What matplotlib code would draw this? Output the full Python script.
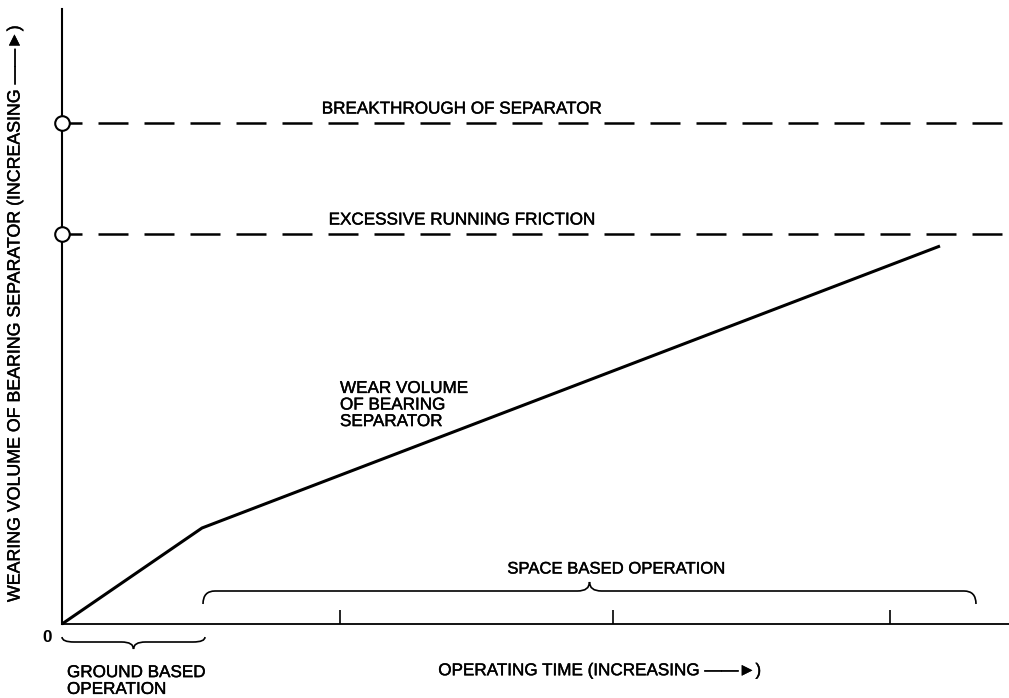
import matplotlib
matplotlib.use("Agg")
import matplotlib.pyplot as plt
import matplotlib.patheffects as pe
from matplotlib.path import Path
from matplotlib.patches import PathPatch

plt.rcParams['font.family'] = ['Liberation Sans', 'DejaVu Sans']

# operating time (arbitrary units) vs wear volume (arbitrary units)
wear_time = [0.0, 1.40, 8.78]
wear_volume = [0.0, 0.96, 3.78]

# failure limits
limit_names = ["BREAKTHROUGH OF SEPARATOR", "EXCESSIVE RUNNING FRICTION"]
limit_levels = [5.01, 3.90]

ground_span = [0.0, 1.43]
space_span = [1.41, 9.14]
time_ticks = [2.78, 5.51, 8.28]

x_max = 9.47
y_max = 6.15

# scanned print looks a little heavier than the plain font
ink = [pe.withStroke(linewidth=0.3, foreground='black')]


def brace(ax, x0, x1, y, tip, end, r):
    """Curly brace along y: tip is the middle point offset, end the curl offset."""
    xm = (x0 + x1) / 2
    verts = [(x0, y + end), (x0, y), (x0 + r, y),
             (xm - r, y), (xm, y), (xm, y + tip),
             (xm, y), (xm + r, y),
             (x1 - r, y), (x1, y), (x1, y + end)]
    codes = [Path.MOVETO, Path.CURVE3, Path.CURVE3,
             Path.LINETO, Path.CURVE3, Path.CURVE3,
             Path.CURVE3, Path.CURVE3,
             Path.LINETO, Path.CURVE3, Path.CURVE3]
    patch = PathPatch(Path(verts, codes), fill=False, lw=1.2, color='black', clip_on=False)
    ax.add_patch(patch)


fig = plt.figure(figsize=(10.09, 6.98), dpi=100)
ax = fig.add_axes([62 / 1009, 74 / 698, 947 / 1009, 615 / 698])

# wear curve
ax.plot(wear_time, wear_volume, color='black', lw=2.2, solid_capstyle='butt', clip_on=False)

# limit lines with open circles on the axis
for name, level in zip(limit_names, limit_levels):
    ax.plot([0, x_max], [level, level], color='black', lw=1.8,
            linestyle=(4, (12, 6.4)), clip_on=False)
    ax.plot([0], [level], marker='o', ms=10.5, mfc='white', mec='black', mew=1.5,
            clip_on=False, zorder=5)
    ax.text(4.0, level + 0.14, name, ha='center', va='center', fontsize=12.3,
            path_effects=ink)

ax.text(2.78, 2.19, "WEAR VOLUME\nOF BEARING\nSEPARATOR", ha='left', va='center',
        fontsize=12.3, linespacing=1.13, path_effects=ink)

# operation phases
brace(ax, space_span[0], space_span[1], 0.33, 0.09, -0.13, 0.12)
ax.text(5.54, 0.55, "SPACE BASED OPERATION", ha='center', va='center', fontsize=12,
        path_effects=ink)
brace(ax, ground_span[0], ground_span[1], -0.18, -0.07, 0.05, 0.12)
ax.text(0.05, -0.57, "GROUND BASED\nOPERATION", ha='left', va='center',
        fontsize=12.3, linespacing=1.15, path_effects=ink)
ax.text(-0.15, -0.13, "0", ha='center', va='center', fontsize=12.3, fontweight='bold')

ax.set_xlim(0, x_max)
ax.set_ylim(0, y_max)
ax.set_xticks(time_ticks)
ax.set_yticks([])
ax.tick_params(axis='x', direction='in', length=10, width=1.2, labelbottom=False)
for side in ['top', 'right']:
    ax.spines[side].set_visible(False)
ax.spines['left'].set_linewidth(1.5)
ax.spines['bottom'].set_linewidth(1.3)

ax.set_xlabel("OPERATING TIME (INCREASING \u2014\u2014\u25ba)", fontsize=12.3,
              path_effects=ink)
ax.xaxis.set_label_coords(0.568, -0.076)
ax.xaxis.label.set_va('center')
ax.set_ylabel("WEARING VOLUME OF BEARING SEPARATOR (INCREASING \u2014\u2014\u25ba)",
              fontsize=12.8, path_effects=ink)
ax.yaxis.set_label_coords(-0.0496, 0.505)
ax.yaxis.label.set_va('center')

fig.savefig("out.png", dpi=100)
